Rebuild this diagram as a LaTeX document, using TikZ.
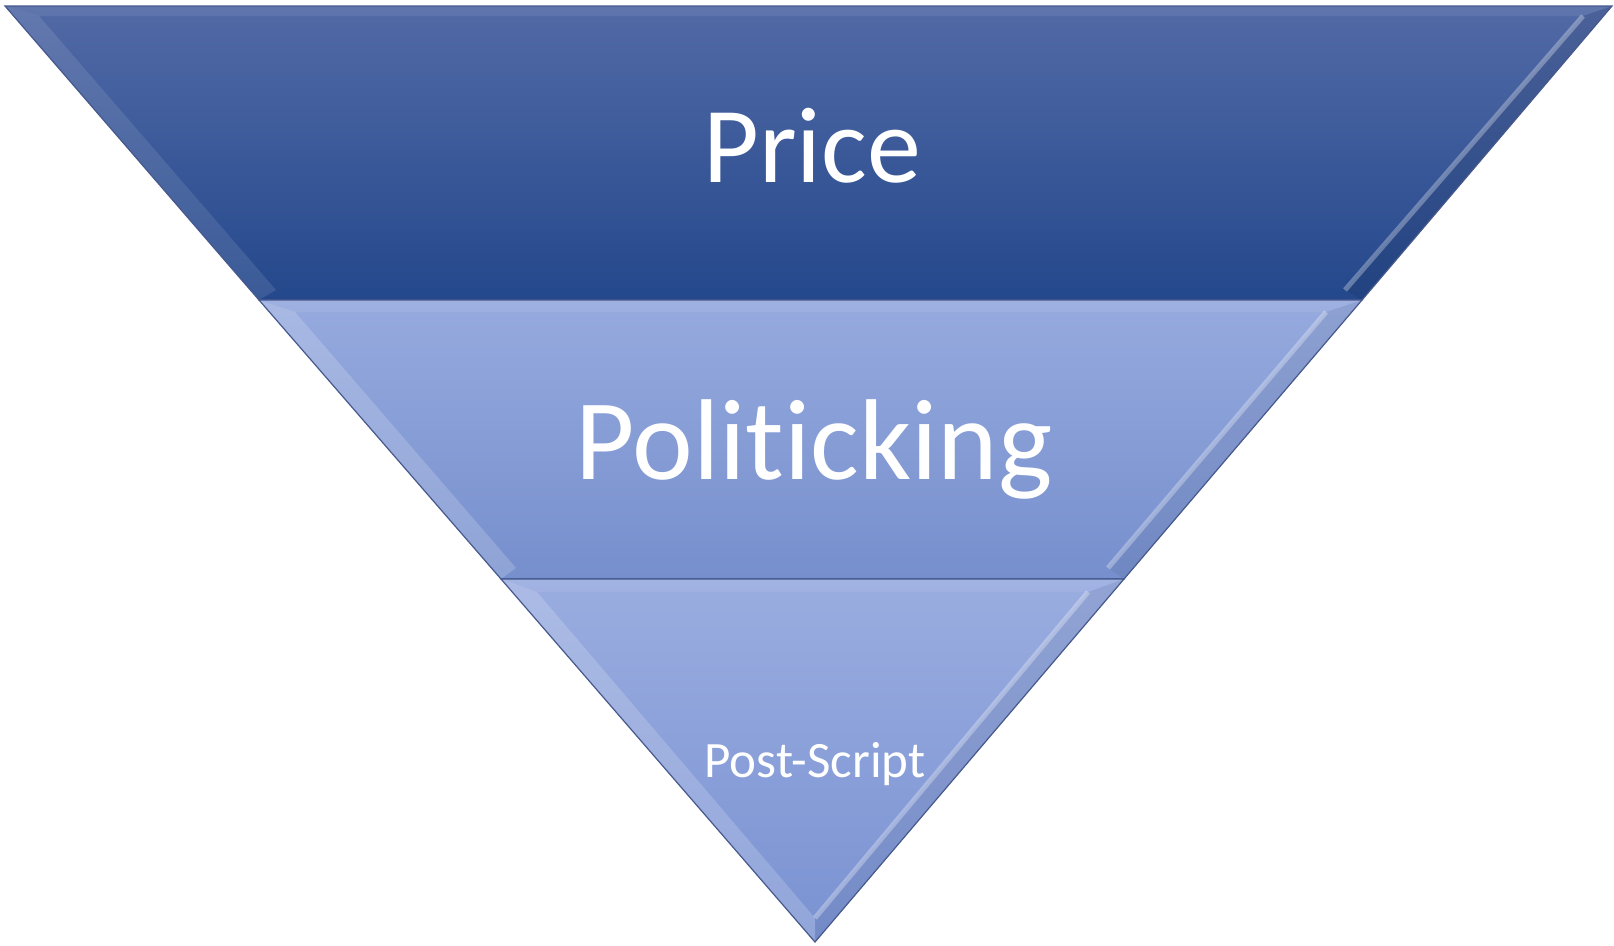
\documentclass[tikz,border=0pt]{standalone}
\usepackage{fontspec}
\setmainfont{Carlito}[Ligatures={NoCommon,NoRequired,NoContextual}]
\definecolor{pricetop}{RGB}{82,106,166}
\definecolor{pricemid}{RGB}{46,86,160}
\definecolor{pricebot}{RGB}{36,72,140}
\definecolor{polititop}{RGB}{150,170,222}
\definecolor{politibot}{RGB}{118,143,205}
\definecolor{posttop}{RGB}{154,173,224}
\definecolor{postbot}{RGB}{122,146,210}
\definecolor{edgeblue}{RGB}{70,88,140}
\tikzset{
	edgeline/.style={color=edgeblue, line width=1.2pt, line join=miter},
	highlight/.style={white, opacity=0.30, line width=5pt},
	label/.style={anchor=base, text=white}
}

\begin{document}
\begin{tikzpicture}[x=1pt,y=-1pt]
	\useasboundingbox (0,0) rectangle (1614,945);
	% top band
	\shade[top color=pricetop, middle color=pricemid, bottom color=pricebot] (5,6) -- (1612,6) -- (1362,300) -- (259,300) -- cycle;
	\fill[white, opacity=0.10] (5,6) -- (259,300) -- (276,290) -- (39,16) -- cycle;
	\fill[black, opacity=0.08] (1612,6) -- (1362,300) -- (1345,290) -- (1583,16) -- cycle;
	\fill[white, opacity=0.08] (5,6) -- (1612,6) -- (1583,16) -- (39,16) -- cycle;
	\draw[highlight] (1583,16) -- (1345,290);
	\draw[edgeline] (5,6) -- (1612,6) -- (1362,300) -- (259,300) -- cycle;
	% middle band
	\shade[top color=polititop, bottom color=politibot] (259,300) -- (1362,300) -- (1124,579) -- (501,579) -- cycle;
	\fill[white, opacity=0.18] (259,300) -- (501,579) -- (516,568) -- (295,312) -- cycle;
	\fill[black, opacity=0.05] (1362,300) -- (1124,579) -- (1108,568) -- (1326,312) -- cycle;
	\fill[white, opacity=0.08] (259,300) -- (1362,300) -- (1326,312) -- (295,312) -- cycle;
	\draw[highlight] (1326,312) -- (1108,568);
	\draw[edgeline] (259,300) -- (1362,300) -- (1124,579) -- (501,579) -- cycle;
	% bottom triangle
	\shade[top color=posttop, bottom color=postbot] (501,579) -- (1124,579) -- (815,942) -- cycle;
	\fill[white, opacity=0.18] (501,579) -- (815,942) -- (815,918) -- (537,592) -- cycle;
	\fill[black, opacity=0.05] (1124,579) -- (815,942) -- (815,918) -- (1088,592) -- cycle;
	\fill[white, opacity=0.08] (501,579) -- (1124,579) -- (1088,592) -- (537,592) -- cycle;
	\draw[highlight] (1088,592) -- (815,918);
	\draw[edgeline] (501,579) -- (1124,579) -- (815,942) -- cycle;
	% labels
	\node[label, font=\fontsize{108}{120}\selectfont] (price) at (812,182) {Price};
	\node[label, font=\fontsize{115}{125}\selectfont] (politicking) at (814,479) {Politicking};
	\node[label, font=\fontsize{51}{60}\selectfont] (postscript) at (815,777) {Post-Script};
\end{tikzpicture}
\end{document}
